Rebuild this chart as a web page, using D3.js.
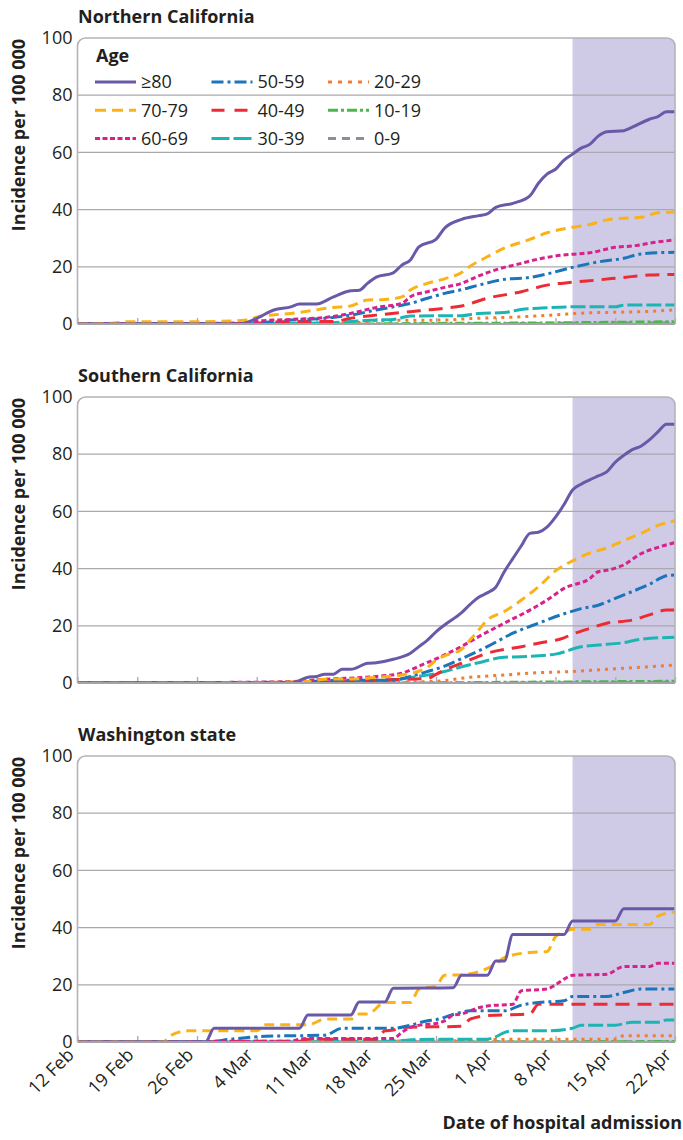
<!DOCTYPE html>
<html>
<head>
<meta charset="utf-8">
<script src="https://cdn.jsdelivr.net/npm/d3@7"></script>
<style>
  body { margin: 0; background: #fff; }
  svg { display: block; font-family: "Open Sans", Lato, sans-serif; }
</style>
</head>
<body>
<script>
// ---- data ----
const ageGroups = ["≥80", "70-79", "60-69", "50-59", "40-49", "30-39", "20-29", "10-19", "0-9"];
const panelTitles = ["Northern California", "Southern California", "Washington state"];
const yTicks = [0, 20, 40, 60, 80, 100];
const xTickDates = ["02-12", "02-19", "02-26", "03-04", "03-11", "03-18", "03-25", "04-01", "04-08", "04-15", "04-22"];
const xTickLabels = ["12 Feb", "19 Feb", "26 Feb", "4 Mar", "11 Mar", "18 Mar", "25 Mar", "1 Apr", "8 Apr", "15 Apr", "22 Apr"];
const shadeFrom = "04-10";

// Northern California, [date, incidence per 100 000]
const north80 = [["02-12",0],["03-02",0],["03-04",2],["03-06",4.9],["03-08",6],["03-09",7],["03-11",7],["03-13",9.5],["03-15",11.6],["03-16",11.8],["03-17",14.3],["03-18",16.4],["03-20",17.9],["03-21",20.6],["03-22",22.4],["03-23",27],["03-25",29.6],["03-26",33.5],["03-28",36.6],["03-30",37.9],["03-31",38.5],["04-01",40.8],["04-03",42.2],["04-05",44.8],["04-06",49.2],["04-07",52.4],["04-08",54.1],["04-09",57.3],["04-10",59.4],["04-11",61.5],["04-12",62.8],["04-13",65.7],["04-14",67.2],["04-16",67.6],["04-17",68.8],["04-19",71.6],["04-20",72.5],["04-21",74.2],["04-22",74.2]];
const north70 = [["02-12",0],["02-16",0.3],["02-18",0.8],["02-26",0.8],["03-03",1.4],["03-04",2.4],["03-08",3.7],["03-10",4.5],["03-13",5.8],["03-15",6.3],["03-17",8.4],["03-19",8.6],["03-21",9.5],["03-22",11.9],["03-24",14.2],["03-26",15.8],["03-28",18],["03-29",20.2],["03-31",23.5],["04-02",26.5],["04-05",29.6],["04-07",31.9],["04-10",33.8],["04-12",34.8],["04-14",36.4],["04-16",37],["04-18",37.3],["04-20",38.9],["04-22",39.2]];
const north60 = [["02-12",0],["03-02",0.3],["03-04",1],["03-08",1.6],["03-12",2.3],["03-15",3.7],["03-18",5.8],["03-21",7.2],["03-22",9.5],["03-24",11.3],["03-26",12.8],["03-28",14.2],["03-30",16.8],["04-02",19.8],["04-04",21.2],["04-05",22],["04-08",23.8],["04-10",24.4],["04-12",24.9],["04-15",26.8],["04-17",27.3],["04-20",28.7],["04-22",29.4]];
const north50 = [["02-12",0],["03-03",0.3],["03-08",1.4],["03-12",2],["03-15",3.1],["03-18",4.9],["03-20",6],["03-22",7.2],["03-24",9],["03-26",10.7],["03-28",12],["03-30",13.6],["04-02",15.6],["04-05",16.3],["04-07",17.5],["04-10",19.8],["04-13",21.7],["04-16",23],["04-18",24.5],["04-22",25.1]];
const north40 = [["02-12",0],["03-03",0.2],["03-08",0.9],["03-13",0.9],["03-15",2],["03-18",3.1],["03-22",4.3],["03-24",4.9],["03-26",5.5],["03-28",6.3],["03-31",9],["04-04",11.3],["04-07",13.6],["04-10",14.6],["04-13",15.4],["04-16",16.3],["04-19",17.1],["04-22",17.3]];
const north30 = [["02-12",0],["03-05",0.2],["03-12",0.4],["03-15",0.9],["03-18",1.4],["03-20",1.6],["03-22",2.8],["03-28",2.9],["03-30",3.7],["04-02",4],["04-04",5.1],["04-06",5.5],["04-10",6],["04-15",6],["04-16",6.6],["04-22",6.6]];
const north20 = [["02-12",0],["03-05",0.1],["03-15",0.3],["03-18",1.2],["03-26",1.4],["03-29",1.9],["04-03",2.4],["04-08",3.2],["04-11",3.8],["04-15",4.1],["04-19",4.4],["04-22",5]];
const north10 = [["02-12",0],["03-15",0],["03-25",0.2],["04-08",0.4],["04-15",0.6],["04-22",0.8]];
const north0 = [["02-12",0],["03-20",0],["04-05",0.2],["04-22",0.4]];

// Southern California
const south80 = [["02-12",0],["03-08",0],["03-10",2],["03-11",2.3],["03-12",3.1],["03-13",3.1],["03-14",4.8],["03-15",4.8],["03-17",6.9],["03-18",7.1],["03-20",8.3],["03-22",10.4],["03-23",12.7],["03-24",15],["03-25",17.9],["03-26",20.3],["03-28",24.6],["03-29",27.5],["03-30",30],["03-31",31.5],["04-01",33.5],["04-02",38.9],["04-03",43.5],["04-04",48],["04-05",52.3],["04-06",52.7],["04-07",54.5],["04-08",58],["04-09",62.4],["04-10",67.5],["04-11",69.5],["04-12",71],["04-13",72.4],["04-14",73.8],["04-15",77.2],["04-16",79.6],["04-17",81.6],["04-18",82.8],["04-19",85],["04-20",87.8],["04-21",90.5],["04-22",90.5]];
const south70 = [["02-12",0],["03-04",0.2],["03-10",0.5],["03-12",1.3],["03-16",1.5],["03-18",2],["03-21",2.8],["03-24",5.5],["03-25",8],["03-26",9.5],["03-28",11.8],["03-29",15.1],["03-30",18.5],["03-31",22],["04-02",25],["04-04",29],["04-06",33.6],["04-08",39.2],["04-10",42.7],["04-12",45.4],["04-14",47.2],["04-16",49.8],["04-18",52.3],["04-20",55.1],["04-22",56.7]];
const south60 = [["02-12",0],["03-04",0.3],["03-08",0.5],["03-12",1.3],["03-18",2.3],["03-21",3.4],["03-23",5.9],["03-26",9.8],["03-28",12.8],["03-30",16.2],["04-02",20.9],["04-05",25.5],["04-07",29],["04-09",33.1],["04-12",36.5],["04-13",38.9],["04-14",39.4],["04-16",41.3],["04-18",45.2],["04-20",47.4],["04-22",49.1]];
const south50 = [["02-12",0],["03-10",0.3],["03-12",0.9],["03-20",1],["03-22",2.3],["03-24",4],["03-26",5.9],["03-28",8.5],["03-31",12.7],["04-03",17.4],["04-06",20.9],["04-09",24.2],["04-11",26],["04-13",27.2],["04-15",29.6],["04-17",32],["04-19",34.5],["04-21",37.5],["04-22",37.8]];
const south40 = [["02-12",0],["03-12",0.3],["03-20",1.2],["03-24",1.6],["03-25",3],["03-26",4.6],["03-27",5.8],["03-28",6.9],["03-31",10.4],["04-04",12.7],["04-06",13.9],["04-09",15.8],["04-10",17.1],["04-12",19.1],["04-14",20.9],["04-17",22],["04-19",23.8],["04-21",25.5],["04-22",25.5]];
const south30 = [["02-12",0],["03-10",0.2],["03-18",0.5],["03-22",1.9],["03-26",4],["03-28",5.7],["03-30",7.1],["04-02",9],["04-04",9.2],["04-08",10.1],["04-11",12.7],["04-13",13.3],["04-16",14.1],["04-18",15.3],["04-22",16]];
const south20 = [["02-12",0],["03-10",0.1],["03-20",0.3],["03-25",0.6],["03-29",2],["04-02",2.8],["04-06",3.6],["04-10",4],["04-14",4.8],["04-18",5.5],["04-22",6.3]];
const south10 = [["02-12",0],["03-20",0],["04-05",0.3],["04-22",0.6]];
const south0 = [["02-12",0],["03-25",0],["04-22",0.3]];

// Washington state
const wash80 = [["02-12",0],["02-27",0],["02-28",4.8],["03-09",4.8],["03-10",9.4],["03-15",9.4],["03-16",14],["03-19",14],["03-20",18.8],["03-27",19],["03-28",23.3],["03-31",23.3],["04-01",28.3],["04-02",28.3],["04-03",37.6],["04-09",37.6],["04-10",42.3],["04-15",42.3],["04-16",46.6],["04-22",46.6]];
const wash70 = [["02-12",0],["02-22",0],["02-23",2.4],["02-25",3.9],["03-04",3.9],["03-05",6],["03-10",6],["03-12",8],["03-15",8],["03-16",9.8],["03-17",9.8],["03-19",13.8],["03-22",13.8],["03-23",18.5],["03-25",19.6],["03-26",23.3],["03-28",23.5],["03-31",25.7],["04-01",27.2],["04-02",29.5],["04-05",31.3],["04-07",31.6],["04-08",36.8],["04-09",38.4],["04-10",39.4],["04-12",39.4],["04-13",41.1],["04-19",41.1],["04-20",44],["04-22",45.4]];
const wash60 = [["02-12",0],["02-27",0],["02-28",0.3],["03-08",0.3],["03-09",1],["03-10",1.2],["03-20",1.2],["03-21",3.4],["03-22",5.1],["03-24",6.2],["03-25",6.5],["03-26",7.4],["03-27",9.4],["03-28",9.8],["03-30",12],["03-31",12.6],["04-03",13.2],["04-04",17.9],["04-07",18.5],["04-08",20],["04-09",22],["04-10",23.3],["04-14",23.7],["04-16",26.4],["04-19",26.4],["04-20",27.5],["04-22",27.5]];
const wash50 = [["02-12",0],["02-27",0],["03-01",1],["03-05",2],["03-12",2.4],["03-14",4.8],["03-20",4.8],["03-22",5.9],["03-24",7.4],["03-25",7.8],["03-27",9.6],["03-29",10.9],["04-02",10.9],["04-04",12.9],["04-06",13.8],["04-09",14.4],["04-10",15.9],["04-14",15.9],["04-16",17.3],["04-18",18.5],["04-22",18.5]];
const wash40 = [["02-12",0],["02-27",0],["03-03",0.3],["03-09",0.3],["03-10",1],["03-18",1],["03-19",3.9],["03-20",4.2],["03-21",5.1],["03-28",5.5],["03-29",8],["03-31",9.2],["04-05",9.8],["04-06",13.2],["04-22",13.2]];
const wash30 = [["02-12",0],["03-12",0],["03-14",0.3],["03-20",0.3],["03-23",0.9],["03-31",1],["04-01",1.8],["04-02",3.3],["04-03",3.9],["04-07",3.9],["04-10",4.8],["04-11",5.9],["04-15",5.9],["04-17",6.9],["04-20",6.9],["04-21",7.7],["04-22",7.7]];
const wash20 = [["02-12",0],["03-15",0],["03-20",0.3],["03-28",0.5],["04-01",0.9],["04-15",1],["04-16",2.2],["04-22",2.2]];
const wash10 = [["02-12",0],["04-05",0],["04-22",0.2]];
const wash0 = [["02-12",0],["04-22",0.1]];

const panelSeries = [
  [north80, north70, north60, north50, north40, north30, north20, north10, north0],
  [south80, south70, south60, south50, south40, south30, south20, south10, south0],
  [wash80, wash70, wash60, wash50, wash40, wash30, wash20, wash10, wash0]
];

// ---- styles ----
const ageColors = ["#6a58a8", "#fbb216", "#d8218b", "#1b75bb", "#ec2b34", "#1cb5b3", "#f47c30", "#4bb749", "#8b8f9d"];
const ageDashes = [null, "10,6", "5,3", "12,4,3,4", "14,8", "15,4", "3,5", "9,3,3,3", "7,6"];
const legendDashes = [null, "11,6", "5,2.5", "12,4,3,4", "13,10", "18,4", "4,6", "10,3,3,3", "8,6"];

const parseDate = s => d3.timeParse("%Y-%m-%d")("2020-" + s);
const textColor = "#231f20";
const font = "'Open Sans', Lato, sans-serif";

const width = 683, height = 1140;
const left = 77.5, right = 675;
const panelTops = [38, 397, 756];
const panelH = 286;
const r = 8;

const svg = d3.select("body").append("svg")
  .attr("width", width)
  .attr("height", height);

const x = d3.scaleTime()
  .domain([parseDate(xTickDates[0]), parseDate(xTickDates[xTickDates.length - 1])])
  .range([left, right]);

const y = d3.scaleLinear().domain([0, 100]).range([panelH, 0]);

const framePath = `M${left},${panelH} V${r} A${r},${r} 0 0 1 ${left + r},0 H${right - r} A${r},${r} 0 0 1 ${right},${r} V${panelH}`;

const line = d3.line()
  .x(d => x(parseDate(d[0])))
  .y(d => y(d[1]))
  .curve(d3.curveMonotoneX);

panelSeries.forEach((series, p) => {
  const g = svg.append("g").attr("transform", `translate(0,${panelTops[p]})`);

  g.append("clipPath").attr("id", `clip${p}`)
    .append("path").attr("d", framePath + " Z");

  g.append("path").attr("d", framePath + " Z").attr("fill", "#fff");

  // shaded period
  g.append("rect")
    .attr("clip-path", `url(#clip${p})`)
    .attr("x", x(parseDate(shadeFrom)))
    .attr("y", 0)
    .attr("width", right - x(parseDate(shadeFrom)))
    .attr("height", panelH)
    .attr("fill", "#cfcae6");

  // gridlines
  g.append("g").selectAll("line")
    .data(yTicks.filter(t => t > 0 && t < 100))
    .join("line")
    .attr("x1", left).attr("x2", right)
    .attr("y1", d => y(d)).attr("y2", d => y(d))
    .attr("stroke", "#aaaaad")
    .attr("stroke-width", 1.3);

  // y labels
  g.append("g")
    .attr("transform", `translate(${left},0)`)
    .call(d3.axisLeft(y).tickValues(yTicks).tickSize(0).tickPadding(5))
    .call(a => a.select(".domain").remove())
    .call(a => a.selectAll("text")
      .attr("font-family", font)
      .attr("font-size", 18)
      .attr("fill", textColor));

  // x axis with small upward ticks
  const xa = g.append("g")
    .attr("transform", `translate(0,${panelH})`)
    .call(d3.axisBottom(x)
      .tickValues(xTickDates.map(parseDate))
      .tickSizeInner(-6)
      .tickSizeOuter(0)
      .tickFormat((d, i) => xTickLabels[i]));
  xa.select(".domain").remove();
  xa.selectAll(".tick line").attr("stroke", "#aaaaad").attr("stroke-width", 1.3);
  if (p < 2) {
    xa.selectAll(".tick text").remove();
  } else {
    xa.selectAll(".tick text")
      .attr("font-family", font)
      .attr("font-size", 18)
      .attr("fill", textColor)
      .attr("text-anchor", "end")
      .attr("dy", null)
      .attr("y", null)
      .attr("transform", "translate(-3,14) rotate(-45)");
  }

  // lines, youngest first so ≥80 sits on top
  const lg = g.append("g").attr("clip-path", `url(#clip${p})`);
  series.map((s, i) => ({ s, i })).reverse().forEach(({ s, i }) => {
    lg.append("path")
      .datum(s)
      .attr("d", line)
      .attr("fill", "none")
      .attr("stroke", ageColors[i])
      .attr("stroke-width", 3)
      .attr("stroke-dasharray", ageDashes[i]);
  });

  // frame
  g.append("path").attr("d", framePath)
    .attr("fill", "none")
    .attr("stroke", "#b4b4b8")
    .attr("stroke-width", 1.6);
  g.append("line")
    .attr("x1", left).attr("x2", right)
    .attr("y1", panelH).attr("y2", panelH)
    .attr("stroke", "#a3a3a8")
    .attr("stroke-width", 1.8);

  // panel title
  g.append("text")
    .attr("x", 78).attr("y", -15)
    .attr("font-size", 18).attr("font-weight", "bold")
    .attr("fill", textColor)
    .text(panelTitles[p]);

  // y title
  g.append("text")
    .attr("transform", `translate(25,${97}) rotate(-90)`)
    .attr("text-anchor", "middle")
    .attr("font-size", 18).attr("font-weight", "bold")
    .attr("fill", textColor)
    .text("Incidence per 100 000");

  if (p === 0) {
    const leg = g.append("g");
    leg.append("text")
      .attr("x", 96).attr("y", 24)
      .attr("font-size", 18).attr("font-weight", "bold")
      .attr("fill", textColor)
      .text("Age");
    ageGroups.forEach((a, i) => {
      const col = Math.floor(i / 3), row = i % 3;
      const lx = 95 + col * 116.5, ly = 44 + row * 28.3;
      leg.append("line")
        .attr("x1", lx).attr("x2", lx + 41)
        .attr("y1", ly).attr("y2", ly)
        .attr("stroke", ageColors[i])
        .attr("stroke-width", 3)
        .attr("stroke-dasharray", legendDashes[i]);
      leg.append("text")
        .attr("x", lx + 46).attr("y", ly)
        .attr("dy", "0.35em")
        .attr("font-size", 18)
        .attr("fill", textColor)
        .text(a);
    });
  }
});

svg.append("text")
  .attr("x", 682).attr("y", 1129)
  .attr("text-anchor", "end")
  .attr("font-size", 18).attr("font-weight", "bold")
  .attr("fill", textColor)
  .text("Date of hospital admission");
</script>
</body>
</html>
